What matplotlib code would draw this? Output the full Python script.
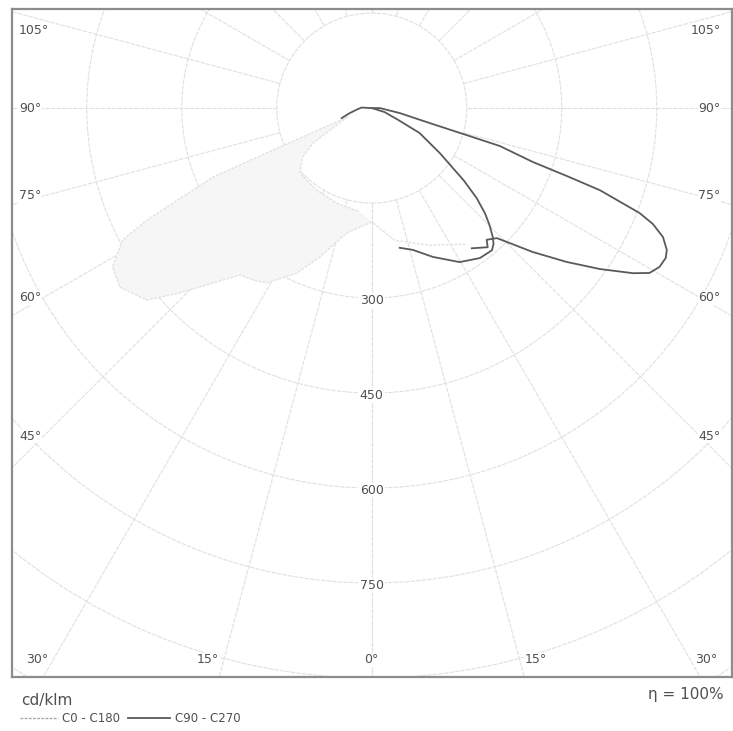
import numpy as np
import matplotlib
matplotlib.use("Agg")
import matplotlib.pyplot as plt
from matplotlib.patches import Circle, Polygon
from matplotlib.lines import Line2D

plt.rcParams.update({"font.family": "DejaVu Sans", "font.size": 9})

GRID = "#e0e0e0"
DARK = "#5a5a5a"
FAINT = "#e2e2e2"
TEXT = "#505050"

# ---------------------------------------------------------------- data (cd/klm)
rings = [150, 300, 450, 600, 750, 900, 1050]
ring_labels = [300, 450, 600, 750]
spokes = list(range(0, 181, 15))
side_angles = [105, 90, 75, 60, 45]
bottom_angles = [-30, -15, 0, 15, 30]

# C90 - C270, gamma in degrees from nadir (+ = right half), intensity cd/klm
c90_outer_gamma = [-71.6, -77.0, -86.0, -93.0, 90.0, 90.0, 79.9, 75.3, 74.1,
                   73.5, 71.5, 70.8, 70.2, 68.6, 67.6, 66.1, 64.3, 63.0, 61.1,
                   59.3, 57.7, 54.8, 51.7, 48.2, 43.9, 41.1, 39.8, 35.5]
c90_outer_cd = [50, 36, 22, 16, 0, 13, 45, 100, 156, 211, 268, 326, 383, 454,
                480, 503, 517, 521, 519, 510, 488, 441, 392, 341, 285, 276,
                286, 272]
c90_inner_gamma = [90.0, 72.9, 66.0, 62.5, 56.5, 51.8, 49.4, 47.1, 45.2, 43.2,
                   41.9, 40.2, 35.8, 29.7, 22.3, 16.1, 11.3]
c90_inner_cd = [0, 21, 45, 85, 129, 185, 218, 244, 262, 279, 288, 294, 292,
                280, 254, 233, 225]

# C0 - C180 (washed out in the original)
c0_gamma = [-70.0, -67.0, -66.5, -63.5, -62.1, -58.5, -54.6, -49.5, -46.1,
            -38.3, -34.7, -31.0, -24.4, -19.2, -11.3, 0.0, 9.9, 22.9, 34.9]
c0_cd = [40, 158, 274, 397, 445, 480, 488, 467, 421, 336, 330, 322, 286, 249,
         201, 180, 212, 235, 262]
c0_inner_gamma = [-70.0, -59.3, -54.6, -47.9, -33.9, -20.2, -6.6]
c0_inner_cd = [40, 108, 134, 153, 156, 160, 165]

eta = "100%"


def xy(gamma, cd):
    g = np.radians(np.asarray(gamma, dtype=float))
    r = np.asarray(cd, dtype=float)
    return r * np.sin(g), -r * np.cos(g)


# ---------------------------------------------------------------- figure
fig = plt.figure(figsize=(7.33, 7.31), dpi=100)
ax = fig.add_axes([12 / 733, 54 / 731, 719.5 / 733, 668 / 731])
ax.set_xlim(-568, 568)
ax.set_ylim(-898.5, 156.5)
ax.set_xticks([])
ax.set_yticks([])
for s in ax.spines.values():
    s.set_color("#8c8c8c")
    s.set_linewidth(1.6)

# grid
gls = (0, (4, 1))
for r in rings:
    ax.add_patch(Circle((0, 0), r, fill=False, ec=GRID, lw=0.8, ls=gls,
                        zorder=1))
for a in spokes:
    for sgn in (-1, 1):
        gx, gy = xy([sgn * a, sgn * a], [rings[0], 1400])
        ax.plot(gx, gy, color=GRID, lw=0.8, ls=gls, zorder=1)

# faint C0 - C180 lobe
ox, oy = xy(c0_gamma, c0_cd)
ix, iy = xy(c0_inner_gamma, c0_inner_cd)
blob = Polygon(np.column_stack([np.r_[ox[:16], ix[::-1]], np.r_[oy[:16], iy[::-1]]]),
               closed=True, fc="#f6f6f6", ec="none", zorder=2)
ax.add_patch(blob)
ax.plot(ox, oy, color=FAINT, lw=1.0, ls=(0, (2, 1)), zorder=3)
ax.plot(ix, iy, color=FAINT, lw=1.0, ls=(0, (2, 1)), zorder=3)

# C90 - C270
px, py = xy(c90_outer_gamma, c90_outer_cd)
ax.plot(px, py, color=DARK, lw=1.3, zorder=4, solid_joinstyle="round")
qx, qy = xy(c90_inner_gamma, c90_inner_cd)
ax.plot(qx, qy, color=DARK, lw=1.3, zorder=4, solid_joinstyle="round")

# ring labels
for r in ring_labels:
    ax.text(0, -r - 4, str(r), ha="center", va="center", color=TEXT,
            fontsize=9, zorder=5,
            bbox=dict(fc="white", ec="none", pad=1.0))

# angle labels at the sides
for a in side_angles:
    y = min(-518 / np.tan(np.radians(a)), 123)
    ax.text(-557, y, f"{a}°", ha="left", va="center", color=TEXT, fontsize=9,
            zorder=5, bbox=dict(fc="white", ec="none", pad=0.5))
    ax.text(551, y, f"{a}°", ha="right", va="center", color=TEXT, fontsize=9,
            zorder=5, bbox=dict(fc="white", ec="none", pad=0.5))

# angle labels at the bottom
yb = -871.6
for a in bottom_angles:
    xb = np.sign(a) * (abs(yb) * np.tan(np.radians(abs(a))) + 25)
    ax.text(xb, yb, f"{abs(a)}°", ha="center", va="center", color=TEXT,
            fontsize=9, zorder=5, bbox=dict(fc="white", ec="none", pad=0.5))

# footer
fig.text(21 / 733, 1 - 701 / 731, "cd/klm", ha="left", va="center",
         color=TEXT, fontsize=11)
fig.text(724 / 733, 1 - 695 / 731, f"η = {eta}", ha="right", va="center",
         color=TEXT, fontsize=11)
ly = 1 - 718 / 731
fig.add_artist(Line2D([20 / 733, 58 / 733], [ly, ly], color="#a8a8a8", lw=1.0,
                      ls=(0, (2, 1))))
fig.text(62 / 733, ly, "C0 - C180", ha="left", va="center", color=TEXT,
         fontsize=8.5)
fig.add_artist(Line2D([128 / 733, 170 / 733], [ly, ly], color=DARK, lw=1.3))
fig.text(175 / 733, ly, "C90 - C270", ha="left", va="center", color=TEXT,
         fontsize=8.5)

fig.savefig("out.png", dpi=100, facecolor="white")
